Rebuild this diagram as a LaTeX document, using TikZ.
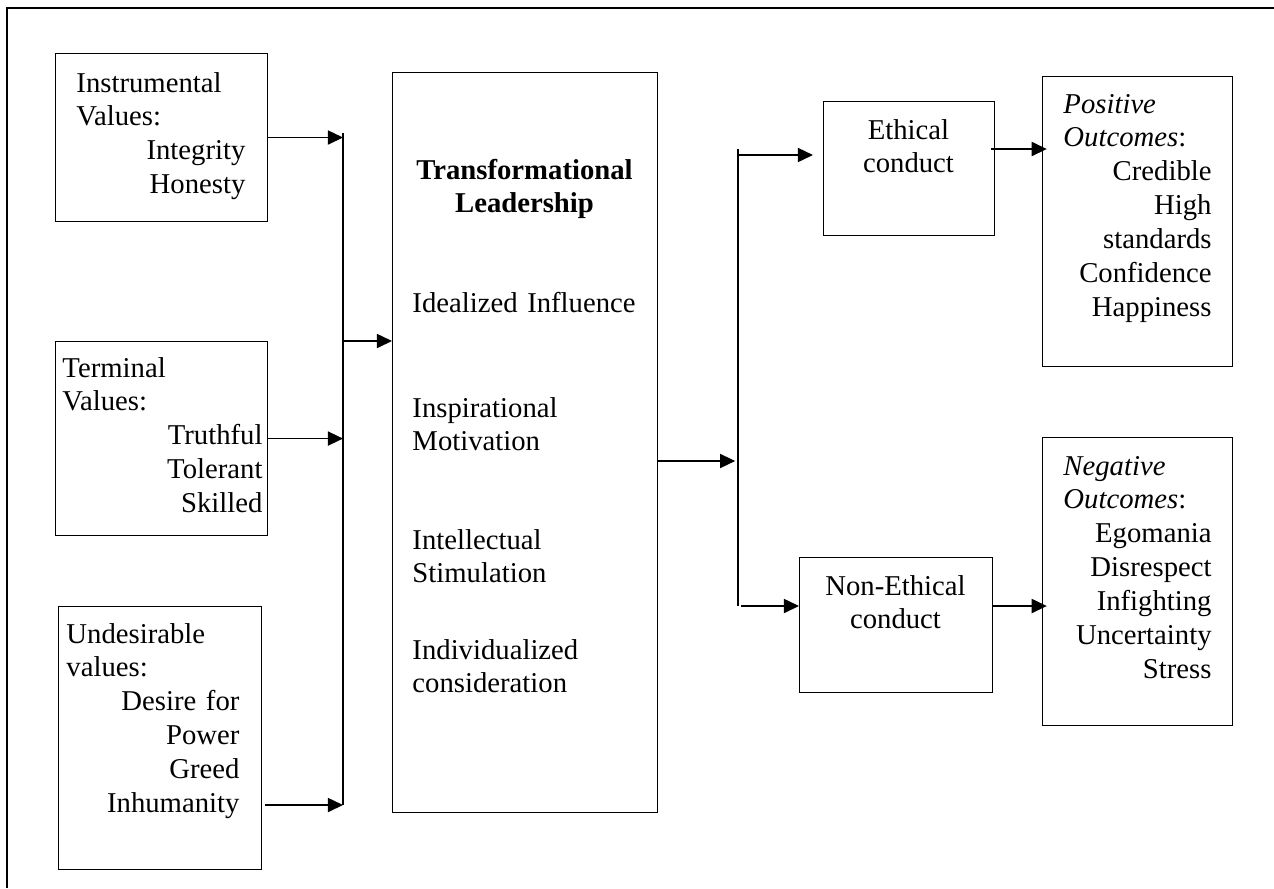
\documentclass[tikz,border=0pt]{standalone}
\usepackage{fontspec}
\setmainfont{Liberation Serif}
\usetikzlibrary{arrows.meta}

\newcommand{\flushr}[1]{\hspace*{0pt plus 1filll}#1}

\begin{document}
\begin{tikzpicture}[x=0.418pt, y=-0.418pt,
                font=\fontsize{12}{14.17}\selectfont,
                valbox/.style={draw, line width=0.45pt, inner sep=0pt, anchor=north west},
                valtext/.style={anchor=base west, inner sep=0pt, align=left},
                midtext/.style={anchor=base, inner sep=0pt, align=center},
                flow/.style={-{Triangle[length=6.3pt, width=5.9pt]}, line width=0.6pt}]
                \useasboundingbox (0,0) rectangle (1274,888);
                % Frame
                \draw[line width=0.7pt] (7,888) -- (7,8) -- (1274,8);

                % Values
                \node[valbox, minimum width=88.6pt, minimum height=70.2pt] (instr) at (55,53) {};
                \node[valtext, text width=70.6pt] (instrtxt) at (76,92) {Instrumental\\Values:\\\flushr{Integrity}\\\flushr{Honesty}};
                \node[valbox, minimum width=88.6pt, minimum height=81.1pt] (term) at (55,341) {};
                \node[valtext, text width=83.6pt] (termtxt) at (62,377) {Terminal\\Values:\\\flushr{Truthful}\\\flushr{Tolerant}\\\flushr{Skilled}};
                \node[valbox, minimum width=84.9pt, minimum height=109.9pt] (undes) at (58,606) {};
                \node[valtext, text width=72.3pt] (undestxt) at (66,643) {Undesirable\\values:\\\flushr{Desire for}\\\flushr{Power}\\\flushr{Greed}\\\flushr{Inhumanity}};

                % Leadership
                \node[valbox, minimum width=110.8pt, minimum height=309.3pt] (lead) at (392,72) {};
                \node[midtext, text width=100pt] (leadtitle) at (524.5,179) {\textbf{Transformational}\\\textbf{Leadership}};
                \node[valtext, text width=100pt] (ideal) at (412,312) {Idealized Influence};
                \node[valtext, text width=100pt] (inspir) at (412,417) {Inspirational\\Motivation};
                \node[valtext, text width=100pt] (intel) at (412,549) {Intellectual\\Stimulation};
                \node[valtext, text width=100pt] (indiv) at (412,659) {Individualized\\consideration};

                % Conduct
                \node[valbox, minimum width=71.5pt, minimum height=56pt] (ethic) at (823,101) {};
                \node[midtext, text width=60pt] (ethictxt) at (908.5,139) {Ethical\\conduct};
                \node[valbox, minimum width=80.7pt, minimum height=56.4pt] (nonethic) at (799,557) {};
                \node[midtext, text width=70pt] (nonethictxt) at (895.5,595) {Non-Ethical\\conduct};

                % Outcomes
                \node[valbox, minimum width=79.4pt, minimum height=121.2pt] (posout) at (1042,76) {};
                \node[valtext, text width=61.9pt] (postxt) at (1063,113) {\textit{Positive}\\\textit{Outcomes}:\\\flushr{Credible}\\\flushr{High}\\\flushr{standards}\\\flushr{Confidence}\\\flushr{Happiness}};
                \node[valbox, minimum width=79.4pt, minimum height=120.4pt] (negout) at (1042,437) {};
                \node[valtext, text width=61.9pt] (negtxt) at (1063,475) {\textit{Negative}\\\textit{Outcomes}:\\\flushr{Egomania}\\\flushr{Disrespect}\\\flushr{Infighting}\\\flushr{Uncertainty}\\\flushr{Stress}};

                % Bus lines
                \coordinate (busLtop) at (343,133);
                \coordinate (busLmid) at (343,341);
                \coordinate (busLbot) at (343,805);
                \coordinate (busRtop) at (738,149);
                \coordinate (busRa) at (738,155);
                \coordinate (busRmid) at (738,461);
                \coordinate (busRbot) at (738,606);
                \draw[line width=0.6pt] (busLtop) -- (busLbot);
                \draw[line width=0.6pt] (busRtop) -- (busRbot);

                % Arrows
                \draw[flow] (instr.east) -- (instr.east -| busLtop);
                \draw[flow] (term.east) -- (term.east -| busLtop);
                \draw[flow] ([xshift=1.2pt]undes.east |- busLbot) -- (busLbot);
                \draw[flow] (busLmid) -- (busLmid -| lead.west);
                \draw[flow] (lead.east |- busRmid) -- ([xshift=-1.2pt]busRmid);
                \draw[flow] (busRa) -- ([xshift=-4.2pt]busRa -| ethic.west);
                \draw[flow] ([xshift=1.2pt]busRbot) -- (busRbot -| nonethic.west);
                \draw[flow] ([xshift=-1.7pt]busRtop -| ethic.east) -- ([xshift=2pt]busRtop -| posout.west);
                \draw[flow] (nonethic.east |- busRbot) -- ([xshift=2pt]busRbot -| posout.west);
\end{tikzpicture}
\end{document}
